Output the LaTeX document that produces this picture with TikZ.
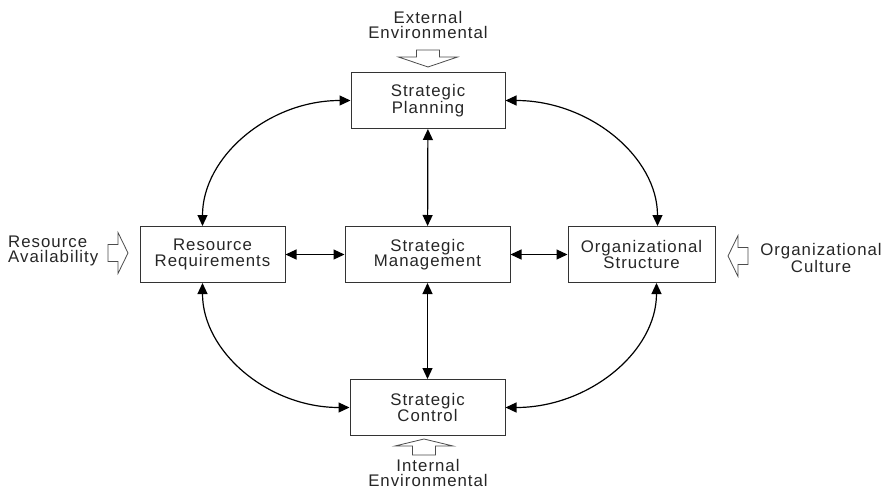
\documentclass[tikz,border=0pt]{standalone}
\usepackage{fontspec}
\setmainfont{Liberation Sans}[LetterSpace=6]
\usetikzlibrary{calc}
\usetikzlibrary{arrows.meta}
\tikzset{block/.style={rectangle, draw=black!80, line width=1pt, minimum height=56, align=center, inner sep=0pt}}
\tikzset{link/.style={line width=1.2pt, {Triangle[length=11pt,width=10pt]}-{Triangle[length=11pt,width=10pt]}}}
\tikzset{hollow/.style={draw=black!70, line width=0.8pt, fill=white}}
\tikzset{note/.style={align=center, inner sep=0pt}}

\begin{document}
\begin{tikzpicture}[x=1pt,y=-1pt,every node/.style={font=\fontsize{16.8}{15.5}\selectfont, text=black!85}]
  \useasboundingbox (0,0) rectangle (887,490);
  \foreach \x/\y/\w/\lab/\txt in {
    428/100.5/154/plan/{Strategic\\Planning},
    212.5/254.5/145/req/{Resource\\Requirements},
    427.5/254.5/165/mgmt/{Strategic\\Management},
    641.5/254.5/147/struct/{Organizational\\Structure},
    427.5/407.5/155/ctrl/{Strategic\\Control}%
  } {
    \node[block, minimum width=\w] (\lab) at (\x, \y) {\txt};
  }

  % straight links
  \foreach \u/\v in {
    plan/mgmt,
    mgmt/ctrl,
    req/mgmt,
    mgmt/struct%
  }{
    \draw[link] (\u) -- (\v);
  }

  % curved links
  \draw[link] (plan.west) .. controls +(-82,0) and +(0,-69) .. ([xshift=-10]req.north);
  \draw[link] (plan.east) .. controls +(84,0) and +(0,-69) .. ([xshift=16]struct.north);
  \draw[link] ([xshift=-10]req.south) .. controls +(0,69) and +(-81,0) .. (ctrl.west);
  \draw[link] ([xshift=15]struct.south) .. controls +(0,69) and +(83,0) .. (ctrl.east);

  % hollow arrows
  \foreach \x/\y/\r/\s/\hw/\sl/\tl in {
    428/50/0/11.5/29.5/7/17,
    424/455/180/11.5/29/9/16,
    108/253/90/8.5/20.5/10/20,
    748/256/-90/8.5/20.5/10/20%
  }{
    \draw[hollow, shift={(\x,\y)}, rotate=\r] (-\s,0) -- (\s,0) -- (\s,\sl) -- (\hw,\sl) -- (0,\tl) -- (-\hw,\sl) -- (-\s,\sl) -- cycle;
  }

  \node[note] (ext) at (428,25) {External\\Environmental};
  \node[note] (int) at (428,473) {Internal\\Environmental};
  \node[note, align=left, anchor=west] (avail) at (8,251) {Resource\\Availability};
  \node[note] (cult) at (821,258) {Organizational\\Culture};
\end{tikzpicture}
\end{document}
